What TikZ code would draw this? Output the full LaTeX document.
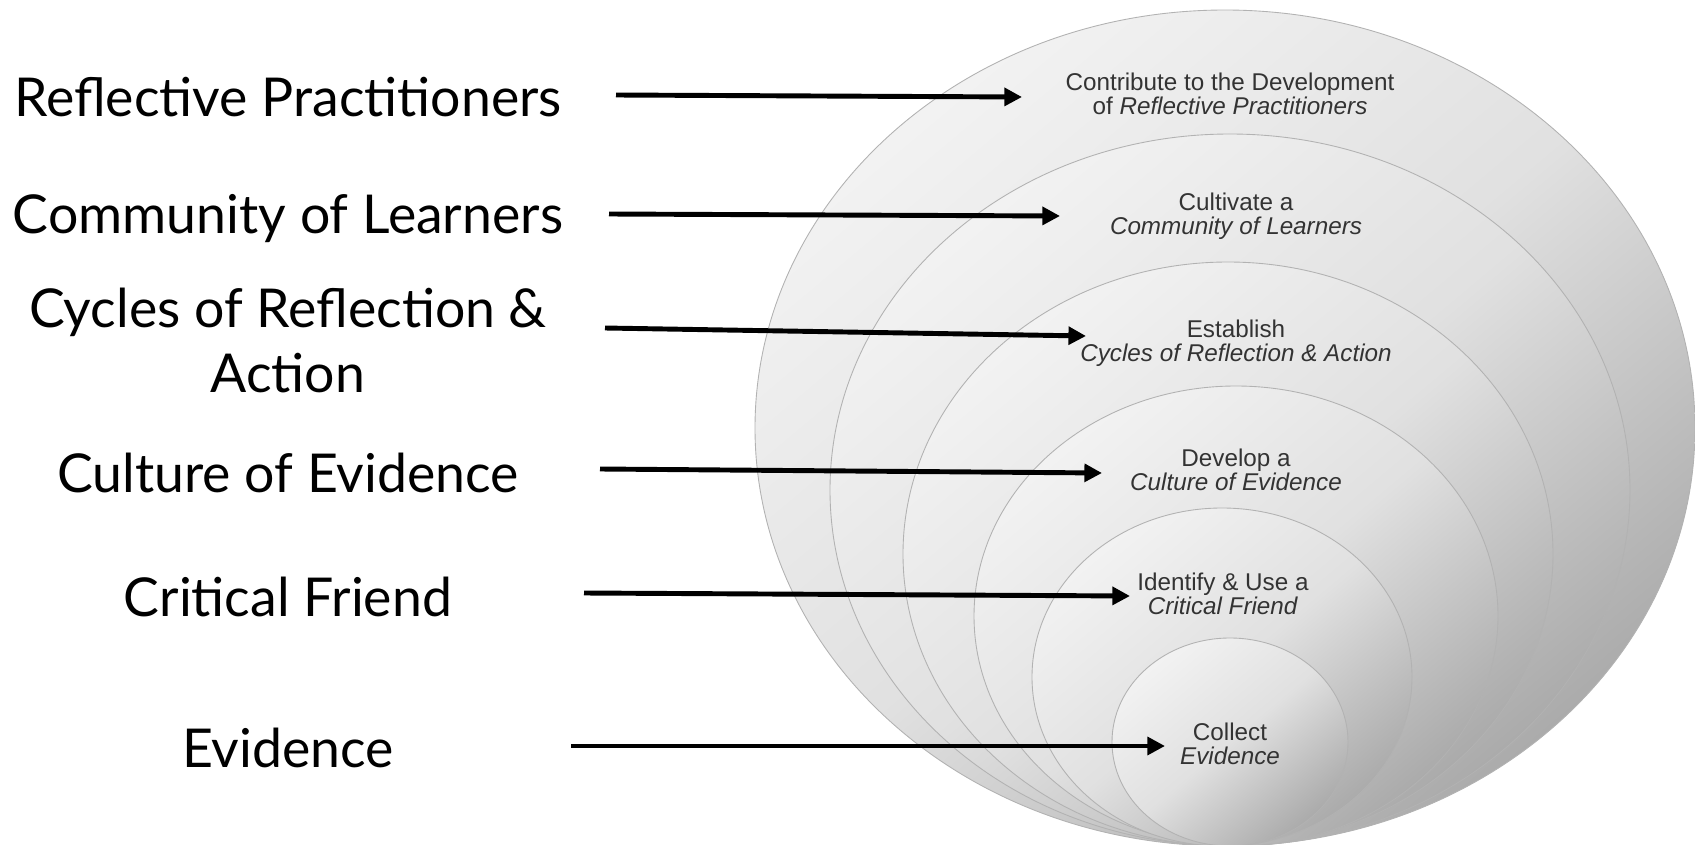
\documentclass[tikz,border=0pt]{standalone}
\usepackage{fontspec}
\setmainfont{Lato}
\newfontfamily\ringfont{Liberation Sans}
\usetikzlibrary{arrows.meta}
\begin{document}
\begin{tikzpicture}[x=0.02cm, y=-0.02cm,
    ring/.style={top color=black!5, bottom color=black!33, middle color=black!12,
        shading angle=40, draw=black!30, line width=0.5pt},
    stage/.style={font=\fontsize{30.5}{37}\selectfont, align=center, inner sep=0pt},
    goal/.style={font=\ringfont\fontsize{13.8}{13.9}\selectfont, text=black!80,
        align=center, inner sep=0pt},
    link/.style={line width=2.8pt, -{Triangle[length=10pt,width=10pt]}}]
    \useasboundingbox (0,0) rectangle (1695,845);
    \clip (0,0) rectangle (1695,845);

    \path[ring] (1225,428) ellipse [x radius=470, y radius=418];
    \path[ring] (1230,490) ellipse [x radius=400, y radius=356];
    \path[ring] (1228,554) ellipse [x radius=325, y radius=292];
    \path[ring] (1236,616) ellipse [x radius=262, y radius=230];
    \path[ring] (1222,677) ellipse [x radius=190, y radius=169];
    \path[ring] (1230,742) ellipse [x radius=118, y radius=104];

    \node[stage] (lrefl) at (288,97) {Reflective Practitioners};
    \node[stage] (lcomm) at (288,219) {Community of Learners};
    \node[stage] (lcyc) at (288,340) {Cycles of Reflection \&\\Action};
    \node[stage] (lcult) at (288,473) {Culture of Evidence};
    \node[stage] (lcrit) at (288,597) {Critical Friend};
    \node[stage] (levid) at (288,748) {Evidence};

    \node[goal] (grefl) at (1230,94)
        {Contribute to the Development\\of \textit{Reflective Practitioners}};
    \node[goal] (gcomm) at (1236,216) {Cultivate a\\\textit{Community of Learners}};
    \node[goal] (gcyc) at (1236,343) {Establish\\\textit{Cycles of Reflection \& Action}};
    \node[goal] (gcult) at (1236,470) {Develop a\\\textit{Culture of Evidence}};
    \node[goal] (gcrit) at (1223,594) {Identify \& Use a\\\textit{Critical Friend}};
    \node[goal] (gevid) at (1230,744) {Collect\\\textit{Evidence}};

    \coordinate (s1) at (616,95);  \coordinate (t1) at (1022,97);
    \coordinate (s2) at (609,214); \coordinate (t2) at (1060,216);
    \coordinate (s3) at (605,328); \coordinate (t3) at (1086,336);
    \coordinate (s4) at (600,469); \coordinate (t4) at (1102,473);
    \coordinate (s5) at (584,593); \coordinate (t5) at (1130,596);
    \coordinate (s6) at (571,746); \coordinate (t6) at (1165,746);
    \foreach \i in {1,...,6}
        \draw[link] (s\i) -- (t\i);
\end{tikzpicture}
\end{document}
